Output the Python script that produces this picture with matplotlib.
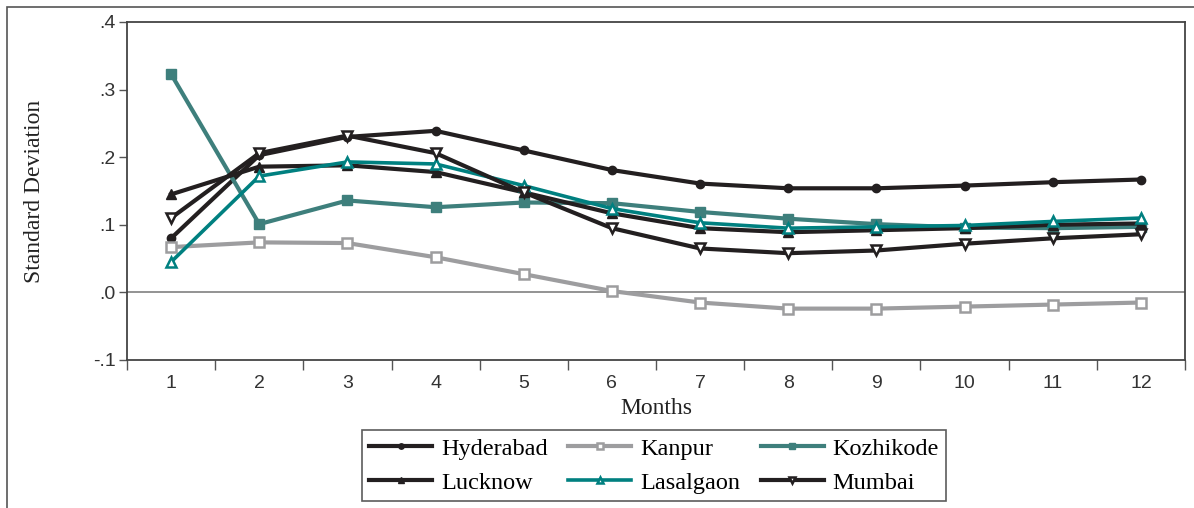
import matplotlib
matplotlib.use("Agg")
import matplotlib.pyplot as plt
from matplotlib.patches import Rectangle
from matplotlib.ticker import FixedLocator

months = [1, 2, 3, 4, 5, 6, 7, 8, 9, 10, 11, 12]
hyderabad = [0.080, 0.203, 0.230, 0.239, 0.210, 0.181, 0.161, 0.154, 0.154, 0.158, 0.163, 0.167]
kanpur = [0.067, 0.074, 0.073, 0.052, 0.027, 0.002, -0.015, -0.024, -0.024, -0.021, -0.018, -0.015]
kozhikode = [0.323, 0.101, 0.136, 0.126, 0.133, 0.132, 0.119, 0.109, 0.101, 0.096, 0.095, 0.097]
lucknow = [0.145, 0.186, 0.188, 0.178, 0.148, 0.117, 0.095, 0.089, 0.092, 0.095, 0.100, 0.102]
lasalgaon = [0.045, 0.172, 0.193, 0.190, 0.158, 0.124, 0.103, 0.095, 0.097, 0.099, 0.105, 0.110]
mumbai = [0.110, 0.206, 0.232, 0.206, 0.148, 0.095, 0.065, 0.058, 0.062, 0.072, 0.080, 0.086]
ytick_vals = [-0.1, 0.0, 0.1, 0.2, 0.3, 0.4]
ytick_labels = ["-.1", ".0", ".1", ".2", ".3", ".4"]

BLACK = "#231f20"
GRAY = "#9d9d9f"
KOZ = "#3e7f7c"
LAS = "#008080"

fig = plt.figure(figsize=(11.94, 5.08), dpi=100)
W, H = 1194, 508
ax = fig.add_axes([127 / W, 1 - 360 / H, (1185 - 127) / W, (360 - 22) / H])

# outer frame (left and top edges)
fig.add_artist(Rectangle((7 / W, -0.1), 1.2, 1 - 7 / H + 0.1, transform=fig.transFigure,
                         fill=False, edgecolor="#555555", linewidth=1.2))

ax.axhline(0, color="#808080", linewidth=1.2, zorder=1)

lw = 3.0
h1, = ax.plot(months, hyderabad, color=BLACK, lw=lw, marker="o", ms=6, mfc=BLACK, mec=BLACK, label="Hyderabad", zorder=3)
h2, = ax.plot(months, kanpur, color=GRAY, lw=lw, marker="s", ms=7.5, mfc="white", mec=GRAY, mew=1.8, label="Kanpur", zorder=3)
h3, = ax.plot(months, kozhikode, color=KOZ, lw=lw, marker="s", ms=7.5, mfc=KOZ, mec=KOZ, label="Kozhikode", zorder=3)
h4, = ax.plot(months, lucknow, color=BLACK, lw=lw, marker="^", ms=7.5, mfc=BLACK, mec=BLACK, label="Lucknow", zorder=3)
h5, = ax.plot(months, lasalgaon, color=LAS, lw=2.6, marker="^", ms=7.5, mfc="white", mec=LAS, mew=1.8, label="Lasalgaon", zorder=4)
h6, = ax.plot(months, mumbai, color=BLACK, lw=lw, marker="v", ms=7.5, mfc="white", mec=BLACK, mew=1.8, label="Mumbai", zorder=4)

ax.set_xlim(0.5, 12.5)
ax.set_ylim(-0.1, 0.4)

ax.set_xticks(months)
ax.set_xticklabels([str(m) for m in months])
ax.xaxis.set_minor_locator(FixedLocator([m - 0.5 for m in months] + [12.5]))
ax.tick_params(axis="x", which="major", length=0, pad=11, labelsize=14)
ax.tick_params(axis="x", which="minor", length=7, width=1.0, color="#555555", direction="out")
ax.set_yticks(ytick_vals)
ax.set_yticklabels(ytick_labels)
ax.tick_params(axis="y", which="major", length=6, width=1.0, color="#555555", direction="out", labelsize=14, pad=2)
for lab in ax.get_xticklabels() + ax.get_yticklabels():
    lab.set_family("Liberation Sans")
    lab.set_color("#333333")

for s in ax.spines.values():
    s.set_color("#444444")
    s.set_linewidth(1.3)

ax.set_xlabel("Months", family="Liberation Serif", fontsize=17, labelpad=4, color="#222222")
ax.set_ylabel("Standard Deviation", family="Liberation Serif", fontsize=17, labelpad=35, color="#222222")

# row-major legend order: Hyderabad, Kanpur, Kozhikode / Lucknow, Lasalgaon, Mumbai
handles = [h1, h4, h2, h5, h3, h6]
leg = fig.legend(handles, [h.get_label() for h in handles], loc="lower left",
                 bbox_to_anchor=(362 / W, 1 - 501 / H, (946 - 362) / W, (501 - 428) / H),
                 ncol=3, mode="expand", prop={"family": "Liberation Serif", "size": 17.5},
                 frameon=True, fancybox=False, edgecolor="#333333", handlelength=2.6,
                 handletextpad=0.35, columnspacing=0.5, borderpad=0.3, labelspacing=0.5,
                 markerscale=0.65, borderaxespad=0)
leg.get_frame().set_linewidth(1.2)

fig.savefig("out.png", dpi=100)
